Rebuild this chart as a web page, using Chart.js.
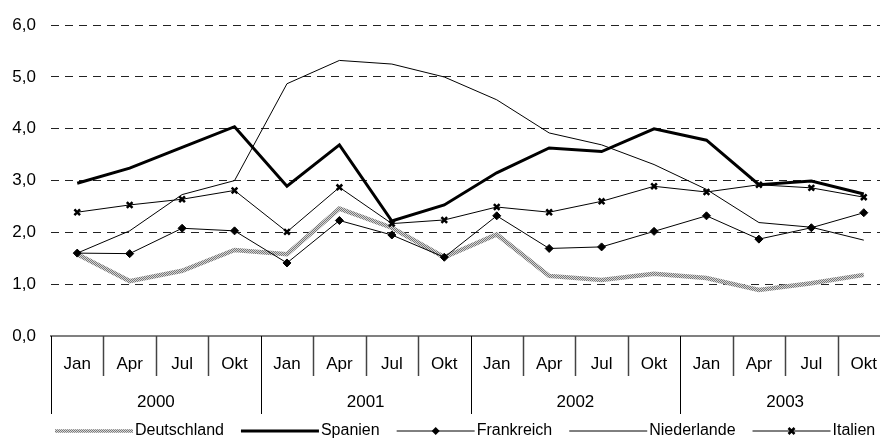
<!DOCTYPE html>
<html>
<head>
<meta charset="utf-8">
<script src="https://cdn.jsdelivr.net/npm/chart.js@4"></script>
<style>
  body { margin: 0; overflow: hidden; background: #fff; }
  #wrap { width: 900px; height: 439px; }
</style>
</head>
<body>
<div id="wrap"><canvas id="c"></canvas></div>
<script>
var months = ["Jan", "Apr", "Jul", "Okt", "Jan", "Apr", "Jul", "Okt",
              "Jan", "Apr", "Jul", "Okt", "Jan", "Apr", "Jul", "Okt"];
var years = ["2000", "2001", "2002", "2003"];

var deutschland = [1.58, 1.06, 1.26, 1.66, 1.58, 2.46, 2.09, 1.52, 1.96, 1.16, 1.08, 1.20, 1.12, 0.89, 1.02, 1.18];
var spanien     = [2.95, 3.24, 3.64, 4.04, 2.89, 3.69, 2.22, 2.53, 3.15, 3.63, 3.56, 4.00, 3.78, 2.92, 2.99, 2.74];
var frankreich  = [1.60, 1.59, 2.08, 2.03, 1.41, 2.23, 1.95, 1.52, 2.32, 1.69, 1.72, 2.02, 2.32, 1.87, 2.09, 2.38];
var niederlande = [1.60, 2.03, 2.73, 3.00, 4.87, 5.32, 5.25, 5.00, 4.56, 3.92, 3.69, 3.31, 2.83, 2.19, 2.10, 1.85];
var italien     = [2.39, 2.53, 2.64, 2.81, 2.01, 2.87, 2.17, 2.24, 2.49, 2.39, 2.60, 2.89, 2.78, 2.92, 2.86, 2.68];

var FONT = '"Liberation Sans", Arial, sans-serif';

// checkered grey pattern for Deutschland
function makePattern() {
  var p = document.createElement("canvas");
  p.width = 2; p.height = 2;
  var g = p.getContext("2d");
  g.fillStyle = "#d6d6d6"; g.fillRect(0, 0, 2, 2);
  g.fillStyle = "#777"; g.fillRect(0, 0, 1, 1); g.fillRect(1, 1, 1, 1);
  return g.createPattern(p, "repeat");
}
var pat = makePattern();

// x axis labels, separators and legend
var decor = {
  id: "decor",
  afterDraw: function(chart) {
    var ctx = chart.ctx, xs = chart.scales.x, area = chart.chartArea;
    var top = area.bottom;
    ctx.save();
    ctx.font = "17px " + FONT;
    ctx.fillStyle = "#000";
    ctx.textAlign = "center";
    ctx.textBaseline = "middle";
    for (var i = 0; i <= months.length; i++) {
      var x = Math.round(xs.getPixelForValue(i - 0.5)) + 0.5;
      var yearLine = i % 4 === 0;
      ctx.beginPath();
      ctx.strokeStyle = yearLine ? "#000" : "#444";
      ctx.lineWidth = yearLine ? 1 : 1.5;
      ctx.moveTo(x, top);
      ctx.lineTo(x, yearLine ? top + 78 : top + 40);
      ctx.stroke();
      if (i < months.length) ctx.fillText(months[i], xs.getPixelForValue(i), top + 28);
    }
    for (var j = 0; j < years.length; j++) {
      ctx.fillText(years[j], xs.getPixelForValue(j * 4 + 1.5), top + 66);
    }

    // legend
    var ly = 431, lx = 55, symW = 78;
    ctx.font = "16px " + FONT;
    ctx.textAlign = "left";
    chart.data.datasets.forEach(function(ds) {
      ctx.beginPath();
      ctx.strokeStyle = ds.borderColor;
      ctx.lineWidth = ds.label === "Deutschland" ? 3.5 : ds.borderWidth;
      ctx.moveTo(lx, ly);
      ctx.lineTo(lx + symW, ly);
      ctx.stroke();
      var cx = lx + symW / 2;
      if (ds.pointStyle === "rectRot" && ds.pointRadius > 0) {
        ctx.fillStyle = "#000";
        ctx.beginPath();
        ctx.moveTo(cx, ly - 4); ctx.lineTo(cx + 4, ly); ctx.lineTo(cx, ly + 4); ctx.lineTo(cx - 4, ly);
        ctx.closePath(); ctx.fill();
      } else if (ds.pointStyle === "crossRot" && ds.pointRadius > 0) {
        ctx.strokeStyle = "#000"; ctx.lineWidth = 2.5;
        ctx.beginPath();
        ctx.moveTo(cx - 3, ly - 3); ctx.lineTo(cx + 3, ly + 3);
        ctx.moveTo(cx + 3, ly - 3); ctx.lineTo(cx - 3, ly + 3);
        ctx.stroke();
      }
      ctx.fillStyle = "#000";
      ctx.fillText(ds.label, lx + symW + 2, ly);
      lx += symW + 2 + ctx.measureText(ds.label).width + 17;
    });
    ctx.restore();
  }
};

new Chart(document.getElementById("c"), {
  type: "line",
  data: {
    labels: months,
    datasets: [
      { label: "Deutschland", data: deutschland, borderColor: pat, borderWidth: 4.5,
        pointRadius: 0, order: 5 },
      { label: "Spanien", data: spanien, borderColor: "#000", borderWidth: 3,
        pointRadius: 0, order: 1 },
      { label: "Frankreich", data: frankreich, borderColor: "#000", borderWidth: 1,
        pointStyle: "rectRot", pointRadius: 4, pointBackgroundColor: "#000",
        pointBorderColor: "#000", order: 3 },
      { label: "Niederlande", data: niederlande, borderColor: "#000", borderWidth: 1,
        pointRadius: 0, order: 4 },
      { label: "Italien", data: italien, borderColor: "#000", borderWidth: 1,
        pointStyle: "crossRot", pointRadius: 4, pointBorderWidth: 2.5,
        pointBorderColor: "#000", order: 2 }
    ]
  },
  options: {
    responsive: true,
    maintainAspectRatio: false,
    animation: false,
    devicePixelRatio: 1,
    layout: { padding: { top: 23, right: 10, left: 0, bottom: 0 } },
    plugins: { legend: { display: false }, tooltip: { enabled: false } },
    elements: { line: { tension: 0 } },
    scales: {
      x: {
        offset: true,
        ticks: { display: false },
        grid: { display: false },
        border: { display: true, color: "#808080", width: 2 },
        afterFit: function(s) { s.height = 103; }
      },
      y: {
        min: 0, max: 6,
        ticks: {
          stepSize: 1, padding: 15, color: "#000",
          font: { family: FONT, size: 17 },
          callback: function(v) { return v.toFixed(1).replace(".", ","); }
        },
        grid: { color: "#222", drawTicks: false },
        border: { display: false, dash: [8, 6] },
        afterFit: function(s) { s.width = 51; }
      }
    }
  },
  plugins: [decor]
});
</script>
</body>
</html>
